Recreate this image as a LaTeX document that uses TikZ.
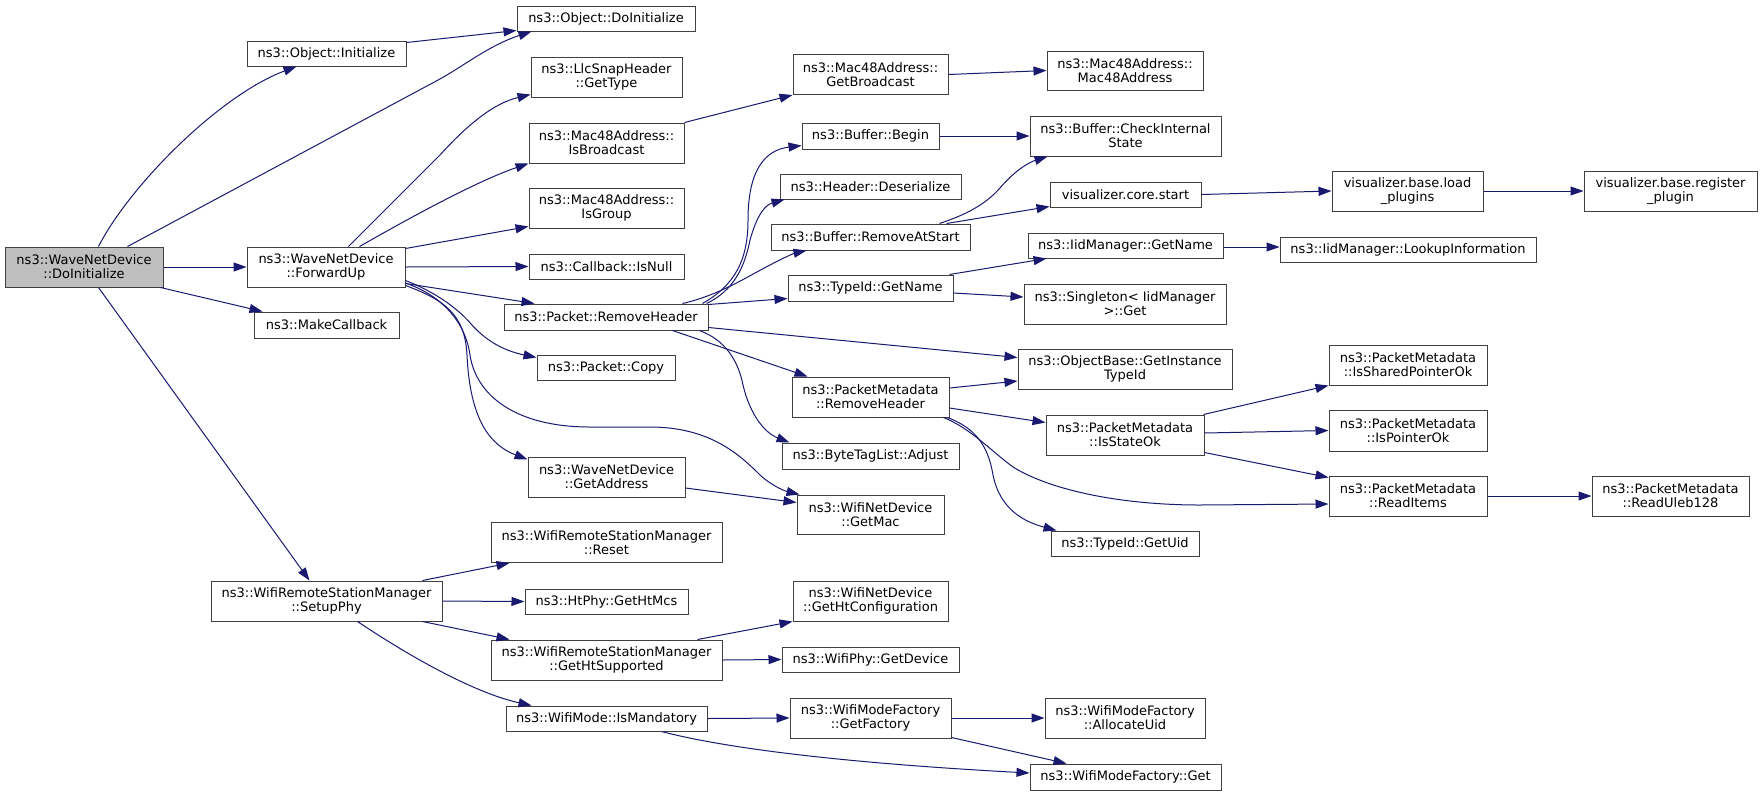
\documentclass[tikz,border=0pt]{standalone}
\usepackage{fontspec}
\setmainfont{DejaVu Sans}
\usetikzlibrary{arrows.meta}
\definecolor{edgec}{HTML}{191970}
\definecolor{boxc}{HTML}{404040}
\definecolor{rootfill}{HTML}{BFBFBF}
\begin{document}
\begin{tikzpicture}[x=1pt,y=-1pt,
  box/.style={draw=boxc, line width=1pt, fill=white, inner sep=0pt, align=center,
    font=\fontsize{13}{14}\selectfont, text=black},
  e/.style={draw=edgec, line width=1pt, -{Triangle[length=13pt,width=9pt]}, edgec}]
\useasboundingbox[fill=white] (0,0) rectangle (1763,796);
% column 0
\node[box, fill=rootfill, minimum width=158, minimum height=40] (doinit) at (84,267) {ns3::WaveNetDevice\\::DoInitialize};
% column 1
\node[box, minimum width=159, minimum height=25] (objinit) at (326.5,53.5) {ns3::Object::Initialize};
\node[box, minimum width=158, minimum height=40] (fwdup) at (326,267) {ns3::WaveNetDevice\\::ForwardUp};
\node[box, minimum width=145, minimum height=26] (makecb) at (326.5,325) {ns3::MakeCallback};
\node[box, minimum width=231, minimum height=40] (setupphy) at (326.5,601) {ns3::WifiRemoteStationManager\\::SetupPhy};
% column 2
\node[box, minimum width=178, minimum height=25] (objdoinit) at (606,18.5) {ns3::Object::DoInitialize};
\node[box, minimum width=151, minimum height=40] (gettype) at (606.5,77) {ns3::LlcSnapHeader\\::GetType};
\node[box, minimum width=155, minimum height=40] (isbcast) at (606.5,143) {ns3::Mac48Address::\\IsBroadcast};
\node[box, minimum width=155, minimum height=40] (isgroup) at (606.5,208) {ns3::Mac48Address::\\IsGroup};
\node[box, minimum width=155, minimum height=25] (isnull) at (606.5,266.5) {ns3::Callback::IsNull};
\node[box, minimum width=204, minimum height=26] (rmhdr) at (606,317) {ns3::Packet::RemoveHeader};
\node[box, minimum width=138, minimum height=25] (copy) at (606,367.5) {ns3::Packet::Copy};
\node[box, minimum width=157, minimum height=40] (getaddr) at (606.5,477) {ns3::WaveNetDevice\\::GetAddress};
\node[box, minimum width=231, minimum height=40] (reset) at (606.5,542.5) {ns3::WifiRemoteStationManager\\::Reset};
\node[box, minimum width=163, minimum height=25] (gethtmcs) at (606.5,601.5) {ns3::HtPhy::GetHtMcs};
\node[box, minimum width=231, minimum height=40] (gethtsup) at (606.5,660) {ns3::WifiRemoteStationManager\\::GetHtSupported};
\node[box, minimum width=201, minimum height=25] (ismand) at (606.5,718.5) {ns3::WifiMode::IsMandatory};
% column 3
\node[box, minimum width=155, minimum height=40] (getbcast) at (870.5,74.5) {ns3::Mac48Address::\\GetBroadcast};
\node[box, minimum width=137, minimum height=26] (begin) at (870.5,136) {ns3::Buffer::Begin};
\node[box, minimum width=181, minimum height=25] (deser) at (870.5,186.5) {ns3::Header::Deserialize};
\node[box, minimum width=199, minimum height=26] (rmstart) at (870.5,237) {ns3::Buffer::RemoveAtStart};
\node[box, minimum width=165, minimum height=26] (tidgetname) at (870.5,288) {ns3::TypeId::GetName};
\node[box, minimum width=157, minimum height=40] (pmrmhdr) at (870.5,397) {ns3::PacketMetadata\\::RemoveHeader};
\node[box, minimum width=177, minimum height=26] (adjust) at (870.5,456) {ns3::ByteTagList::Adjust};
\node[box, minimum width=147, minimum height=39] (getmac) at (870.5,514.5) {ns3::WifiNetDevice\\::GetMac};
\node[box, minimum width=155, minimum height=40] (gethtconf) at (870.5,601) {ns3::WifiNetDevice\\::GetHtConfiguration};
\node[box, minimum width=177, minimum height=25] (getdevice) at (870.5,659.5) {ns3::WifiPhy::GetDevice};
\node[box, minimum width=161, minimum height=40] (getfactory) at (870.5,718) {ns3::WifiModeFactory\\::GetFactory};
% column 4
\node[box, minimum width=156, minimum height=39] (mac48) at (1125,70.5) {ns3::Mac48Address::\\Mac48Address};
\node[box, minimum width=191, minimum height=40] (checkint) at (1125.5,136) {ns3::Buffer::CheckInternal\\State};
\node[box, minimum width=151, minimum height=25] (corestart) at (1125.5,194.5) {visualizer.core.start};
\node[box, minimum width=195, minimum height=25] (iidgetname) at (1125.5,245.5) {ns3::IidManager::GetName};
\node[box, minimum width=202, minimum height=40] (singleton) at (1125,304) {ns3::Singleton< IidManager\\>::Get};
\node[box, minimum width=214, minimum height=40] (getinst) at (1125,369) {ns3::ObjectBase::GetInstance\\TypeId};
\node[box, minimum width=158, minimum height=40] (isstateok) at (1125,435) {ns3::PacketMetadata\\::IsStateOk};
\node[box, minimum width=148, minimum height=25] (getuid) at (1125,543.5) {ns3::TypeId::GetUid};
\node[box, minimum width=160, minimum height=40] (allocuid) at (1125,718) {ns3::WifiModeFactory\\::AllocateUid};
\node[box, minimum width=191, minimum height=26] (wmfget) at (1125.5,777) {ns3::WifiModeFactory::Get};
% column 5
\node[box, minimum width=151, minimum height=40] (loadplugins) at (1407.5,191) {visualizer.base.load\\\_plugins};
\node[box, minimum width=256, minimum height=25] (lookup) at (1408,249.5) {ns3::IidManager::LookupInformation};
\node[box, minimum width=158, minimum height=40] (isshared) at (1408,365) {ns3::PacketMetadata\\::IsSharedPointerOk};
\node[box, minimum width=158, minimum height=41] (isptr) at (1408,430.5) {ns3::PacketMetadata\\::IsPointerOk};
\node[box, minimum width=158, minimum height=40] (readitems) at (1408,496) {ns3::PacketMetadata\\::ReadItems};
% column 6
\node[box, minimum width=173, minimum height=40] (regplugin) at (1670.5,191) {visualizer.base.register\\\_plugin};
\node[box, minimum width=157, minimum height=40] (uleb) at (1670.5,496) {ns3::PacketMetadata\\::ReadUleb128};
% edges from DoInitialize
\draw[e] ([xshift=94pt]doinit.north west) .. controls (130,185) and (220,95) .. ([xshift=50pt]objinit.south west);
\draw[e] ([xshift=123pt]doinit.north west) -- (440,79) .. controls (465,65) and (490,45) .. ([xshift=15pt]objdoinit.south west);
\draw[e] (doinit.east) -- (fwdup.west);
\draw[e] ([xshift=-3pt]doinit.south east) -- ([xshift=9pt]makecb.north west);
\draw[e] ([xshift=94pt]doinit.south west) -- ([xshift=99pt]setupphy.north west);
% Initialize
\draw[e] ([yshift=-2pt]objinit.north east) -- ([yshift=1pt]objdoinit.south west);
% ForwardUp
\draw[e] ([xshift=102pt]fwdup.north west) -- (440,155) .. controls (470,122) and (495,103) .. ([yshift=3pt]gettype.south west);
\draw[e] ([xshift=113pt]fwdup.north west) .. controls (420,212) and (480,180) .. (isbcast.south west);
\draw[e] ([yshift=-2pt]fwdup.north east) -- ([yshift=2pt]isgroup.south west);
\draw[e] (fwdup.east) -- (isnull.west);
\draw[e] ([yshift=4pt]fwdup.south east) -- ([xshift=31pt]rmhdr.north west);
\draw[e] ([yshift=7pt]fwdup.south east) .. controls (430,290) and (455,305) .. (472,325) .. controls (490,345) and (510,352) .. ([yshift=-3pt]copy.north west);
\draw[e] ([yshift=2pt]fwdup.south east) .. controls (445,300) and (465,315) .. (467,355) .. controls (470,420) and (490,445) .. ([yshift=-3pt]getaddr.north west);
\draw[e] ([yshift=4.5pt]fwdup.south east) .. controls (440,295) and (465,320) .. (470,355) .. controls (476,395) and (515,427) .. (590,427) -- (650,427) .. controls (710,427) and (740,455) .. (760,475) .. controls (772,486) and (785,491) .. ([xshift=3pt]getmac.north west);
% IsBroadcast, GetBroadcast
\draw[e] (isbcast.north east) -- (getbcast.south west);
\draw[e] (getbcast.east) -- (mac48.west);
% Packet::RemoveHeader
\draw[e] ([xshift=199pt]rmhdr.north west) .. controls (735,285) and (748,260) .. (748,220) .. controls (748,170) and (765,150) .. ([yshift=4pt]begin.south west);
\draw[e] ([xshift=203pt]rmhdr.north west) .. controls (735,290) and (745,265) .. (750,240) .. controls (757,215) and (765,205) .. ([xshift=5pt]deser.south west);
\draw[e] ([xshift=179pt]rmhdr.north west) .. controls (720,295) and (750,275) .. (770,265) .. controls (785,257) and (795,253) .. ([xshift=36pt]rmstart.south west);
\draw[e] ([yshift=-1pt]rmhdr.north east) -- ([yshift=3pt]tidgetname.south west);
\draw[e] ([yshift=3pt]rmhdr.south east) -- ([yshift=-9pt]getinst.north west);
\draw[e] ([xshift=169pt]rmhdr.south west) -- ([xshift=16pt]pmrmhdr.north west);
\draw[e] ([xshift=196pt]rmhdr.south west) .. controls (725,340) and (738,360) .. (743,385) .. controls (750,415) and (765,433) .. ([xshift=8pt]adjust.north west);
% Buffer
\draw[e] (begin.east) -- (checkint.west);
\draw[e] ([xshift=169pt]rmstart.north west) .. controls (965,215) and (985,205) .. (1000,188) .. controls (1015,170) and (1030,162) .. ([xshift=18pt]checkint.south west);
\draw[e] ([xshift=176pt]rmstart.north west) -- ([yshift=1pt]corestart.south west);
% TypeId::GetName
\draw[e] ([xshift=162pt]tidgetname.north west) -- ([xshift=19pt]iidgetname.south west);
\draw[e] ([yshift=-5pt]tidgetname.east) -- ([yshift=7pt]singleton.west);
% visualizer
\draw[e] (corestart.east) -- (loadplugins.west);
\draw[e] (loadplugins.east) -- (regplugin.west);
\draw[e] ([yshift=-1.5pt]iidgetname.east) -- ([yshift=2.5pt]lookup.west);
% PacketMetadata::RemoveHeader
\draw[e] ([yshift=9pt]pmrmhdr.east) -- ([yshift=-12pt]getinst.west);
\draw[e] ([yshift=-11pt]pmrmhdr.east) -- ([yshift=-8pt]isstateok.north west);
\draw[e] ([xshift=-6pt]pmrmhdr.south east) .. controls (970,428) and (990,450) .. (1013,467) .. controls (1050,490) and (1120,505) .. (1200,505) -- ([yshift=-8pt]readitems.west);
\draw[e] ([xshift=-2pt]pmrmhdr.south east) .. controls (975,428) and (988,445) .. (993,475) .. controls (1000,510) and (1025,522) .. ([xshift=6pt]getuid.north west);
% IsStateOk
\draw[e] ([xshift=-1pt]isstateok.north east) -- (isshared.south west);
\draw[e] ([yshift=2pt]isstateok.east) -- (isptr.west);
\draw[e] ([yshift=3pt]isstateok.south east) -- ([yshift=-2pt]readitems.north west);
\draw[e] (readitems.east) -- (uleb.west);
% GetAddress
\draw[e] ([yshift=-11pt]getaddr.east) -- ([yshift=-8pt]getmac.north west);
% SetupPhy
\draw[e] ([xshift=212pt]setupphy.north west) -- ([xshift=19pt]reset.south west);
\draw[e] (setupphy.east) -- (gethtmcs.west);
\draw[e] ([xshift=212pt]setupphy.south west) -- ([xshift=19pt]gethtsup.north west);
\draw[e] ([xshift=147pt]setupphy.south west) .. controls (400,650) and (470,692) .. ([xshift=26pt]ismand.north west);
% GetHtSupported
\draw[e] ([xshift=207pt]gethtsup.north west) -- (gethtconf.south west);
\draw[e] (gethtsup.east) -- (getdevice.west);
% IsMandatory
\draw[e] (ismand.east) -- (getfactory.west);
\draw[e] ([xshift=156pt]ismand.south west) .. controls (740,752) and (880,765) .. ([yshift=4pt]wmfget.west);
% GetFactory
\draw[e] (getfactory.east) -- (allocuid.west);
\draw[e] ([yshift=1pt]getfactory.south east) -- ([xshift=37pt]wmfget.north west);
\end{tikzpicture}
\end{document}
